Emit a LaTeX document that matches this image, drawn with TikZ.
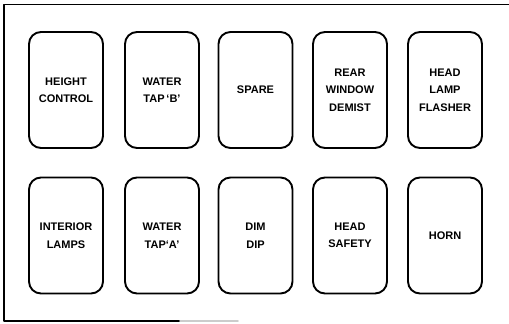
\documentclass[tikz,border=0pt]{standalone}
\usepackage{fontspec}
\setsansfont{Liberation Sans}
\usepackage{tikz}
\usetikzlibrary{positioning}
\tikzset{every node/.style={font=\small}, every path/.style={line cap=round, line join=round}}

\begin{document}
\begin{tikzpicture}[
    x=1pt, y=1pt,
    fuse/.style={
        draw,
        line width=1.9pt,
        rounded corners=12pt,
        align=center,
        minimum width=74pt,
        minimum height=116pt,
        inner sep=0pt,
        font=\sffamily\bfseries\fontsize{11}{17.5}\selectfont
    },
    frame/.style={
        line width=1.6pt
    }
]
\useasboundingbox (0,0) rectangle (509,324);

% outer panel
\draw[frame] (509,319.5) -- (4,319.5) -- (4,3) -- (180,3);
\draw[frame, black!20] (180,3) -- (238,3);

% top row
\node[fuse] (height) at (66,234) {HEIGHT\\CONTROL};
\node[fuse] (tapb) at (162,234) {WATER\\TAP\,`B'};
\node[fuse] (spare) at (255.5,234) {SPARE};
\node[fuse] (demist) at (350,234) {REAR\\WINDOW\\DEMIST};
\node[fuse] (flasher) at (445,234) {HEAD\\LAMP\\FLASHER};

% bottom row
\node[fuse] (interior) at (66,88.5) {INTERIOR\\LAMPS};
\node[fuse] (tapa) at (162,88.5) {WATER\\TAP`A'};
\node[fuse] (dimdip) at (255.5,88.5) {DIM\\DIP};
\node[fuse] (safety) at (350,88.5) {HEAD\\SAFETY};
\node[fuse] (horn) at (445,88.5) {HORN};

\end{tikzpicture}
\end{document}
